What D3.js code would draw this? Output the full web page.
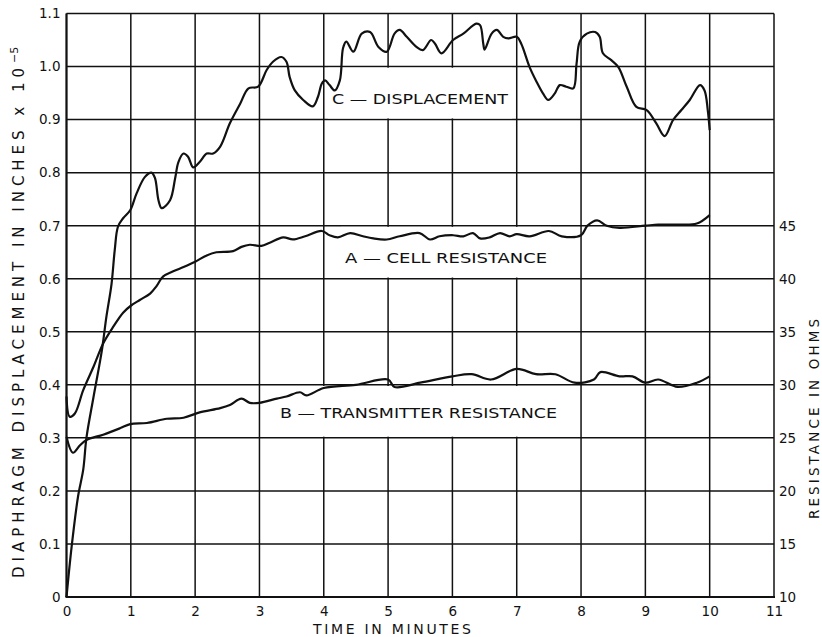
<!DOCTYPE html>
<html><head><meta charset="utf-8">
<script src="https://cdn.jsdelivr.net/npm/d3@7"></script>
<style>body{margin:0;background:#fff}svg{display:block}text{font-family:"DejaVu Sans",sans-serif;fill:#111}</style>
</head><body>
<script>
const xTicks = [0,1,2,3,4,5,6,7,8,9,10,11];
const leftTicks = [0,0.1,0.2,0.3,0.4,0.5,0.6,0.7,0.8,0.9,1.0,1.1];
const leftTickLabels = ["0","0.1","0.2","0.3","0.4","0.5","0.6","0.7","0.8","0.9","1.0","1.1"];
const rightTicks = [10,15,20,25,30,35,40,45];

// C - displacement (inches x 1e-5)
const dispT = [0,0.08,0.18,0.26,0.31,0.42,0.55,0.62,0.70,0.75,0.80,0.88,0.99,1.09,1.22,1.32,1.375,1.43,1.48,1.61,1.69,1.74,1.82,1.89,1.97,2.07,2.18,2.28,2.39,2.54,2.70,2.83,2.98,3.11,3.21,3.34,3.42,3.47,3.55,3.68,3.83,3.91,3.97,4.02,4.09,4.17,4.25,4.30,4.35,4.46,4.59,4.72,4.85,4.98,5.10,5.18,5.29,5.44,5.54,5.67,5.73,5.83,6.01,6.17,6.37,6.43,6.48,6.50,6.61,6.69,6.79,6.87,7.00,7.07,7.20,7.31,7.41,7.49,7.59,7.67,7.77,7.88,7.93,7.98,8.09,8.22,8.29,8.34,8.47,8.58,8.71,8.86,9.02,9.17,9.30,9.43,9.56,9.69,9.85,9.92,9.97,10.0];
const dispV = [0,0.095,0.19,0.24,0.30,0.377,0.465,0.528,0.59,0.654,0.698,0.714,0.729,0.761,0.792,0.80,0.79,0.748,0.733,0.748,0.79,0.82,0.836,0.83,0.81,0.82,0.836,0.836,0.849,0.893,0.93,0.959,0.962,0.993,1.009,1.018,1.009,0.98,0.955,0.937,0.925,0.943,0.968,0.974,0.965,0.955,0.974,1.035,1.047,1.028,1.062,1.065,1.037,1.028,1.062,1.069,1.056,1.037,1.031,1.05,1.043,1.025,1.05,1.062,1.081,1.078,1.043,1.032,1.062,1.069,1.056,1.053,1.056,1.043,0.999,0.971,0.949,0.937,0.949,0.965,0.962,0.959,1.005,1.047,1.062,1.065,1.056,1.025,1.012,0.999,0.962,0.924,0.918,0.893,0.869,0.899,0.918,0.937,0.965,0.955,0.918,0.88];

// A - cell resistance (ohms)
const cellT = [0,0.05,0.13,0.26,0.42,0.57,0.73,0.88,1.01,1.14,1.30,1.40,1.50,1.66,1.82,2.0,2.18,2.33,2.59,2.72,2.85,3.03,3.16,3.37,3.52,3.71,3.97,4.09,4.22,4.41,4.61,4.77,4.98,5.18,5.49,5.65,5.80,6.01,6.17,6.32,6.43,6.58,6.74,6.89,7.0,7.2,7.5,7.7,8.0,8.1,8.25,8.4,8.6,9.0,9.2,9.5,9.8,10.0];
const cellR = [28.9,27.0,27.3,29.5,31.7,33.9,35.5,36.8,37.5,38.0,38.6,39.3,40.2,40.7,41.1,41.6,42.2,42.5,42.6,43.0,43.2,43.1,43.4,43.9,43.7,44.0,44.5,44.1,43.9,44.3,44.0,43.8,43.7,44.0,44.3,43.7,44.0,44.1,44.0,44.3,43.8,43.9,44.3,44.0,44.2,44.0,44.5,44.0,44.1,45.0,45.5,45.0,44.8,45.0,45.1,45.1,45.2,46.0];

// B - transmitter resistance (ohms)
const transT = [0,0.1,0.21,0.31,0.57,0.83,0.99,1.25,1.56,1.82,2.07,2.39,2.54,2.72,2.85,3.0,3.27,3.42,3.63,3.73,4.0,4.5,5.0,5.1,5.5,6.0,6.3,6.6,7.0,7.3,7.6,7.9,8.2,8.3,8.6,8.8,9.0,9.2,9.5,9.8,10.0];
const transR = [25.1,23.6,24.3,24.8,25.3,25.9,26.3,26.4,26.8,26.9,27.4,27.8,28.1,28.7,28.3,28.3,28.7,28.9,29.3,29.0,29.7,30.0,30.5,29.8,30.2,30.8,31.0,30.5,31.5,31.0,31.0,30.2,30.5,31.2,30.8,30.8,30.2,30.5,29.8,30.2,30.8];

const W = 822, H = 637;
const svg = d3.select("body").append("svg").attr("width", W).attr("height", H);
svg.append("rect").attr("width", W).attr("height", H).attr("fill", "#fff");

const x = d3.scaleLinear().domain([0, 11]).range([66.5, 774]);
const yL = d3.scaleLinear().domain([0, 1.1]).range([597, 13.5]);
const yR = d3.scaleLinear().domain([10, 65]).range([597, 13.5]);

// grid
const g = svg.append("g");
g.selectAll(".vg").data(xTicks).join("line")
  .attr("x1", d => x(d)).attr("x2", d => x(d)).attr("y1", yL(0)).attr("y2", yL(1.1))
  .attr("stroke", "#111").attr("stroke-width", 1.5);
g.selectAll(".hg").data(leftTicks).join("line")
  .attr("x1", x(0)).attr("x2", x(11)).attr("y1", d => yL(d)).attr("y2", d => yL(d))
  .attr("stroke", "#111").attr("stroke-width", 1.5);
g.append("line").attr("x1", x(0)-1).attr("x2", x(11)+1).attr("y1", yL(0)).attr("y2", yL(0))
  .attr("stroke", "#111").attr("stroke-width", 2.2);
g.append("line").attr("x1", x(0)).attr("x2", x(0)).attr("y1", yL(0)).attr("y2", yL(1.1))
  .attr("stroke", "#111").attr("stroke-width", 2);

// label boxes (gap in the grid between horizontal lines)
function box(x0, x1, vTop, vBot) {
  svg.append("rect").attr("x", x0).attr("y", yL(vTop) + 1.2).attr("width", x1 - x0)
    .attr("height", yL(vBot) - yL(vTop) - 2.4).attr("fill", "#fff");
}
box(328, 512, 1.0, 0.9);
box(341, 551, 0.7, 0.6);
box(276, 561, 0.4, 0.3);

// axes labels via d3 axes
const axL = d3.axisLeft(yL).tickValues(leftTicks).tickSize(0).tickPadding(6)
  .tickFormat((d, i) => leftTickLabels[i]);
svg.append("g").attr("transform", `translate(${x(0)},0)`).call(axL)
  .call(s => s.select(".domain").remove())
  .selectAll("text").style("font-family", "DejaVu Sans").style("font-size", "13.5px").attr("fill", "#111");

const axR = d3.axisRight(yR).tickValues(rightTicks).tickSize(0).tickPadding(5);
svg.append("g").attr("transform", `translate(${x(11)},0)`).call(axR)
  .call(s => s.select(".domain").remove())
  .selectAll("text").style("font-family", "DejaVu Sans").style("font-size", "13.5px").attr("fill", "#111");

const axB = d3.axisBottom(x).tickValues(xTicks).tickSize(0).tickPadding(9);
svg.append("g").attr("transform", `translate(0,${yL(0)})`).call(axB)
  .call(s => s.select(".domain").remove())
  .selectAll("text").style("font-family", "DejaVu Sans").style("font-size", "13.5px").attr("fill", "#111");

// titles
svg.append("text").attr("x", 392).attr("y", 634).attr("text-anchor", "middle")
  .style("font-size", "14px").attr("textLength", 158).text("TIME IN MINUTES");
const lt = svg.append("text").attr("transform", "translate(24,578) rotate(-90)").attr("x", 0).attr("y", 0)
  .style("font-size", "15px");
lt.append("tspan").attr("textLength", 510).attr("lengthAdjust", "spacing").text("DIAPHRAGM DISPLACEMENT IN INCHES x 10");
lt.append("tspan").attr("dy", -6).style("font-size", "11px").text("−5");
svg.append("text").attr("transform", "translate(819,419) rotate(-90)").attr("text-anchor", "middle")
  .style("font-size", "13.5px").attr("textLength", 200).text("RESISTANCE IN OHMS");

// curves
const line = (xs, ys, ysc) => d3.line().x((d, i) => x(xs[i])).y((d, i) => ysc(ys[i])).curve(d3.curveCatmullRom.alpha(0.5))(xs);
svg.append("path").attr("d", line(dispT, dispV, yL)).attr("fill", "none").attr("stroke", "#111").attr("stroke-width", 2.2);
svg.append("path").attr("d", line(cellT, cellR, yR)).attr("fill", "none").attr("stroke", "#111").attr("stroke-width", 2.2);
svg.append("path").attr("d", line(transT, transR, yR)).attr("fill", "none").attr("stroke", "#111").attr("stroke-width", 2.2);

// series labels
function label(txt, x0, x1, yc) {
  svg.append("text").attr("x", x0).attr("y", yc + 5).style("font-size", "14px")
    .attr("textLength", x1 - x0).attr("lengthAdjust", "spacingAndGlyphs").text(txt);
}
label("C — DISPLACEMENT", 332, 508, 99);
label("A — CELL RESISTANCE", 345, 547, 258);
label("B — TRANSMITTER RESISTANCE", 280, 557, 413);
</script>
</body></html>
